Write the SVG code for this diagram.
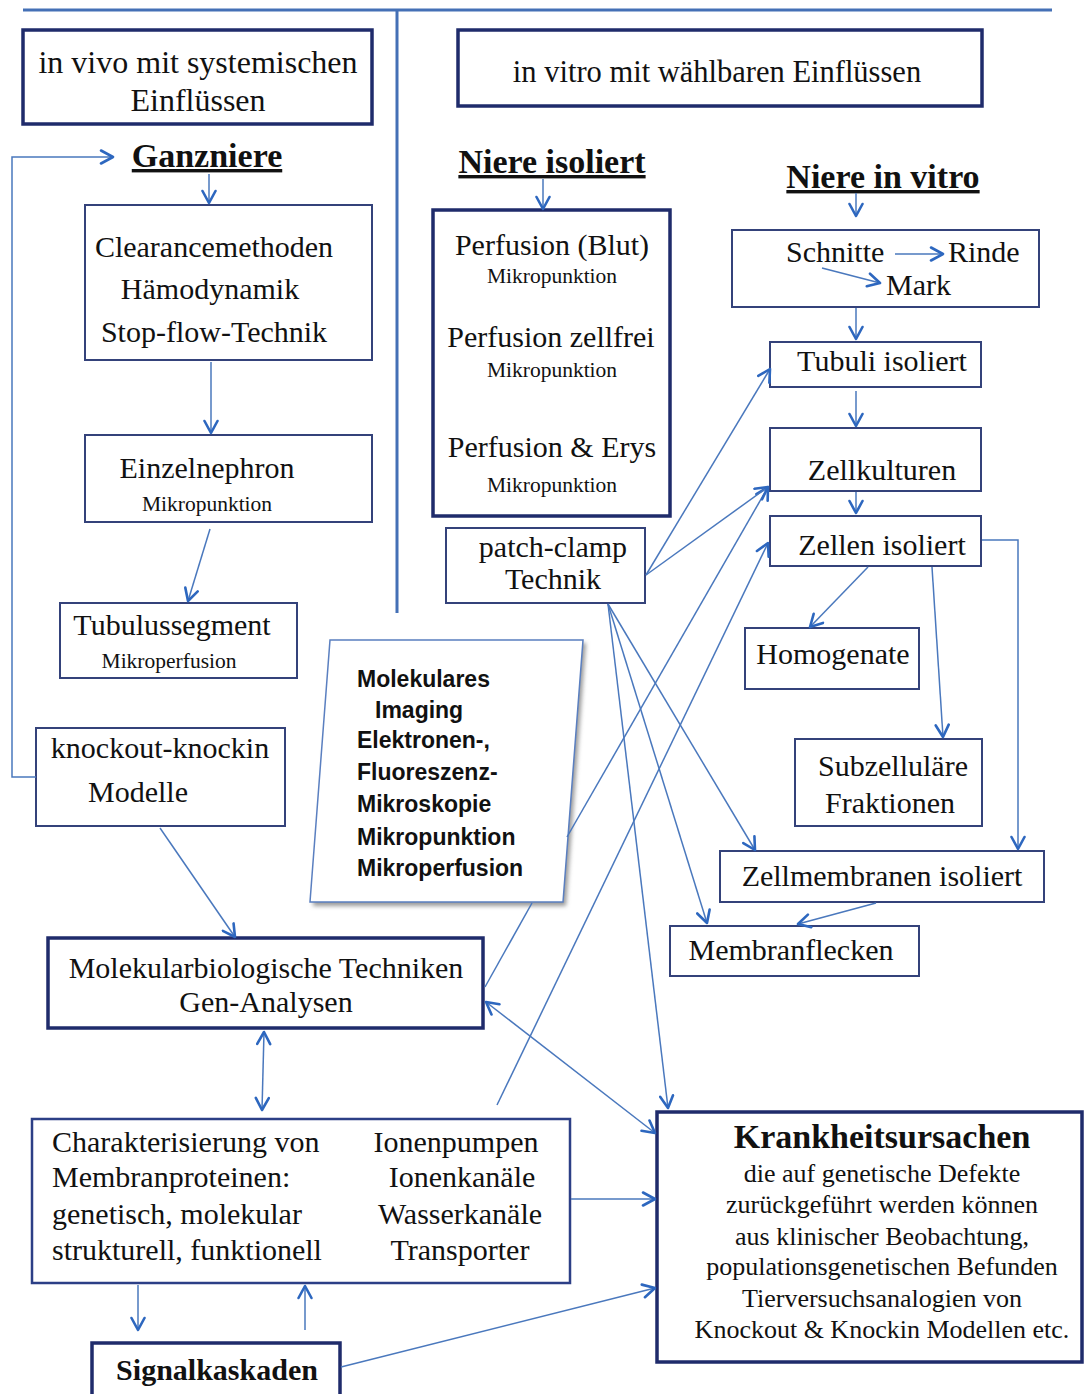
<svg xmlns="http://www.w3.org/2000/svg" width="1084" height="1394" viewBox="0 0 1084 1394">
<style>
.bx{fill:#fff;stroke:#34427a;stroke-width:2}
.bxt{fill:#fff;stroke:#1f2b6b;stroke-width:3.5}
.t{font-family:"Liberation Serif","Times New Roman",serif;font-size:30px;fill:#111}
.s{font-family:"Liberation Serif","Times New Roman",serif;font-size:21.5px;fill:#111}
.h{font-family:"Liberation Serif","Times New Roman",serif;font-size:34px;font-weight:bold;fill:#111}
.k{font-family:"Liberation Serif","Times New Roman",serif;font-size:26px;fill:#111}
.m{font-family:"Liberation Sans",Arial,sans-serif;font-size:23px;font-weight:bold;fill:#111}
.c{text-anchor:middle}
.ln{fill:none;stroke:#4a78bd;stroke-width:1.5}
.a{marker-end:url(#ah)}
.d{marker-start:url(#ah);marker-end:url(#ah)}
.div{fill:none;stroke:#4470b6;stroke-width:3}
</style>
<defs>
<marker id="ah" viewBox="0 0 16 16" refX="14" refY="8" markerWidth="16" markerHeight="16" markerUnits="userSpaceOnUse" orient="auto-start-reverse">
<path d="M2,1.5 L14,8 L2,14.5" fill="none" stroke="#2d67bf" stroke-width="2.6" stroke-linecap="round" stroke-linejoin="round"/>
</marker>
<filter id="sh" x="-10%" y="-10%" width="120%" height="120%"><feGaussianBlur stdDeviation="2"/></filter>
</defs>
<rect width="1084" height="1394" fill="#fff"/>

<g id="dividers">
<line class="div" x1="23" y1="10" x2="1052" y2="10"/>
<line class="div" x1="397" y1="10" x2="397" y2="613"/>
</g>

<g id="invivo">
<rect class="bxt" x="23" y="30" width="349" height="94"/>
<text class="t c" x="198" y="73" style="font-size:32px">in vivo mit systemischen</text>
<text class="t c" x="198" y="111" style="font-size:32px">Einflüssen</text>
</g>
<g id="invitro">
<rect class="bxt" x="458" y="30" width="524" height="76"/>
<text class="t c" x="717" y="82" style="font-size:30.5px">in vitro mit wählbaren Einflüssen</text>
</g>
<g id="ganzniere">
<text class="h c" x="207" y="167" text-decoration="underline">Ganzniere</text>
</g>
<g id="niere-isoliert">
<text class="h c" x="552" y="173" text-decoration="underline">Niere isoliert</text>
</g>
<g id="niere-in-vitro">
<text class="h c" x="883" y="188" text-decoration="underline">Niere in vitro</text>
</g>
<g id="clearance">
<rect class="bx" x="85" y="205" width="287" height="155"/>
<text class="t c" x="214" y="257">Clearancemethoden</text>
<text class="t c" x="210" y="299">Hämodynamik</text>
<text class="t c" x="214" y="342">Stop-flow-Technik</text>
</g>
<g id="einzelnephron">
<rect class="bx" x="85" y="435" width="287" height="87"/>
<text class="t c" x="207" y="478">Einzelnephron</text>
<text class="s c" x="207" y="511">Mikropunktion</text>
</g>
<g id="tubulussegment">
<rect class="bx" x="60" y="603" width="237" height="75"/>
<text class="t c" x="172" y="635">Tubulussegment</text>
<text class="s c" x="169" y="668">Mikroperfusion</text>
</g>
<g id="knockout">
<rect class="bx" x="36" y="728" width="249" height="98"/>
<text class="t c" x="160" y="758">knockout-knockin</text>
<text class="t c" x="138" y="802">Modelle</text>
</g>
<g id="perfusion">
<rect class="bxt" x="433" y="210" width="237" height="306"/>
<text class="t c" x="552" y="255">Perfusion (Blut)</text>
<text class="s c" x="552" y="283">Mikropunktion</text>
<text class="t c" x="551" y="347">Perfusion zellfrei</text>
<text class="s c" x="552" y="377">Mikropunktion</text>
<text class="t c" x="552" y="457">Perfusion &amp; Erys</text>
<text class="s c" x="552" y="492">Mikropunktion</text>
</g>
<g id="patchclamp">
<rect class="bx" x="446" y="528" width="199" height="75"/>
<text class="t c" x="553" y="557">patch-clamp</text>
<text class="t c" x="553" y="589">Technik</text>
</g>
<g id="schnitte">
<rect class="bx" x="732" y="230" width="307" height="77"/>
<text class="t" x="786" y="262">Schnitte</text>
<text class="t" x="948" y="262">Rinde</text>
<text class="t" x="886" y="295">Mark</text>
</g>
<g id="tubuli">
<rect class="bx" x="770" y="342" width="211" height="45"/>
<text class="t c" x="882" y="371">Tubuli isoliert</text>
</g>
<g id="zellkulturen">
<rect class="bx" x="770" y="428" width="211" height="63"/>
<text class="t c" x="882" y="480">Zellkulturen</text>
</g>
<g id="zellen">
<rect class="bx" x="770" y="516" width="211" height="50"/>
<text class="t c" x="882" y="555">Zellen isoliert</text>
</g>
<g id="homogenate">
<rect class="bx" x="745" y="628" width="174" height="61"/>
<text class="t c" x="833" y="664">Homogenate</text>
</g>
<g id="subzellulaer">
<rect class="bx" x="795" y="739" width="187" height="87"/>
<text class="t c" x="893" y="776">Subzelluläre</text>
<text class="t c" x="890" y="813">Fraktionen</text>
</g>
<g id="zellmembranen">
<rect class="bx" x="720" y="851" width="324" height="51"/>
<text class="t c" x="882" y="886">Zellmembranen isoliert</text>
</g>
<g id="membranflecken">
<rect class="bx" x="670" y="926" width="249" height="50"/>
<text class="t c" x="791" y="960">Membranflecken</text>
</g>
<g id="molekulares">
<polygon points="333,643 586,643 566,906 313,906" fill="#9a9a9a" filter="url(#sh)"/>
<polygon points="330,640 583,640 563,902 310,902" fill="#fff" stroke="#5a7fc0" stroke-width="1.5"/>
<text class="m" x="357" y="687">Molekulares</text>
<text class="m" x="375" y="718">Imaging</text>
<text class="m" x="357" y="748">Elektronen-,</text>
<text class="m" x="357" y="780">Fluoreszenz-</text>
<text class="m" x="357" y="812">Mikroskopie</text>
<text class="m" x="357" y="845">Mikropunktion</text>
<text class="m" x="357" y="876">Mikroperfusion</text>
</g>
<g id="molbio">
<rect class="bxt" x="48" y="938" width="435" height="90"/>
<text class="t c" x="266" y="978">Molekularbiologische Techniken</text>
<text class="t c" x="266" y="1012">Gen-Analysen</text>
</g>
<g id="charakterisierung">
<rect class="bx" x="32" y="1119" width="538" height="164" style="stroke-width:2.5;stroke:#2c3f86"/>
<text class="t" x="52" y="1152">Charakterisierung von</text>
<text class="t" x="52" y="1187">Membranproteinen:</text>
<text class="t" x="52" y="1224">genetisch, molekular</text>
<text class="t" x="52" y="1260">strukturell, funktionell</text>
<text class="t c" x="456" y="1152">Ionenpumpen</text>
<text class="t c" x="462" y="1187">Ionenkanäle</text>
<text class="t c" x="460" y="1224">Wasserkanäle</text>
<text class="t c" x="460" y="1260">Transporter</text>
</g>
<g id="signalkaskaden">
<rect class="bxt" x="92" y="1343" width="248" height="60"/>
<text class="t c" x="217" y="1380" style="font-weight:bold">Signalkaskaden</text>
</g>
<g id="krankheitsursachen">
<rect class="bxt" x="657" y="1112" width="425" height="250"/>
<text class="h c" x="882" y="1148">Krankheitsursachen</text>
<text class="k c" x="882" y="1182">die auf genetische Defekte</text>
<text class="k c" x="882" y="1213">zurückgeführt werden können</text>
<text class="k c" x="882" y="1245">aus klinischer Beobachtung,</text>
<text class="k c" x="882" y="1275">populationsgenetischen Befunden</text>
<text class="k c" x="882" y="1307">Tierversuchsanalogien von</text>
<text class="k c" x="882" y="1338">Knockout &amp; Knockin Modellen etc.</text>
</g>

<g id="connectors">
<line class="ln a" x1="209" y1="174" x2="209" y2="203"/>
<line class="ln a" x1="211" y1="362" x2="211" y2="433"/>
<line class="ln a" x1="210" y1="529" x2="188" y2="601"/>
<polyline class="ln a" points="36,777 12,777 12,157 113,157"/>
<line class="ln a" x1="160" y1="828" x2="235" y2="937"/>
<line class="ln d" x1="264" y1="1032" x2="262" y2="1110"/>
<line class="ln a" x1="138" y1="1285" x2="138" y2="1330"/>
<line class="ln a" x1="305" y1="1330" x2="305" y2="1286"/>
<line class="ln a" x1="571" y1="1199" x2="655" y2="1199"/>
<line class="ln a" x1="341" y1="1367" x2="655" y2="1288"/>
<line class="ln d" x1="486" y1="1002" x2="655" y2="1133"/>
<line class="ln" x1="532" y1="903" x2="485" y2="987"/>
<line class="ln a" x1="567" y1="837" x2="768" y2="487"/>
<line class="ln a" x1="497" y1="1105" x2="768" y2="543"/>
<line class="ln a" x1="646" y1="575" x2="770" y2="369"/>
<line class="ln a" x1="646" y1="575" x2="768" y2="487"/>
<line class="ln a" x1="608" y1="604" x2="755" y2="850"/>
<line class="ln a" x1="608" y1="604" x2="707" y2="923"/>
<line class="ln a" x1="608" y1="604" x2="668" y2="1108"/>
<line class="ln a" x1="543" y1="179" x2="543" y2="209"/>
<line class="ln a" x1="856" y1="193" x2="856" y2="216"/>
<line class="ln a" x1="856" y1="308" x2="856" y2="339"/>
<line class="ln a" x1="856" y1="391" x2="856" y2="426"/>
<line class="ln a" x1="856" y1="492" x2="856" y2="513"/>
<line class="ln a" x1="868" y1="567" x2="810" y2="627"/>
<line class="ln a" x1="932" y1="567" x2="943" y2="737"/>
<polyline class="ln a" points="982,540 1018,540 1018,849"/>
<line class="ln a" x1="876" y1="903" x2="798" y2="924"/>
<line class="ln a" x1="895" y1="254" x2="943" y2="254"/>
<line class="ln a" x1="822" y1="268" x2="880" y2="283"/>
</g>
</svg>
